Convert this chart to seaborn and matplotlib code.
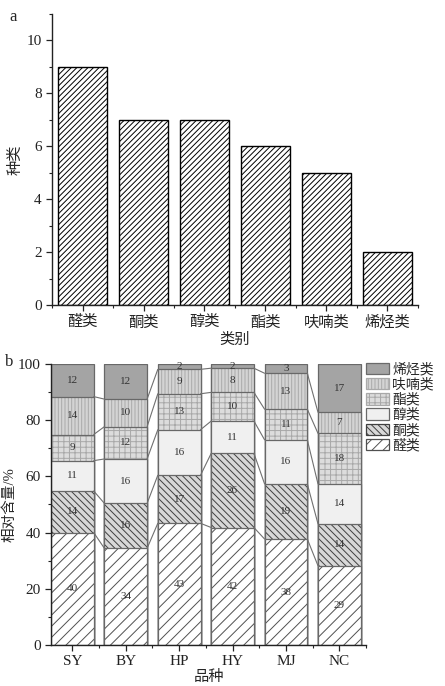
import matplotlib
matplotlib.use("Agg")
import matplotlib.pyplot as plt
import matplotlib.patches as mpatches
from matplotlib.ticker import MultipleLocator
import numpy as np
import seaborn as sns

# ---- data ----
# panel a: number of compounds in each class
classes = ['醛类', '酮类', '醇类', '酯类', '呋喃类', '烯烃类']
counts = [9, 7, 7, 6, 5, 2]

# panel b: relative content (%) per variety, one list per class (bottom -> top)
varieties = ['SY', 'BY', 'HP', 'HY', 'MJ', 'NC']
aldehyde = [40.0, 34.4, 43.3, 41.8, 37.7, 28.2]
ketone = [14.8, 16.0, 17.1, 26.4, 19.6, 14.9]
alcohol = [10.8, 15.8, 16.2, 11.5, 15.7, 14.2]
ester = [9.3, 11.5, 12.8, 10.2, 10.9, 18.0]
furan = [13.5, 9.8, 8.7, 8.6, 12.8, 7.5]
olefin = [11.6, 12.5, 1.9, 1.5, 3.3, 17.2]

# printed labels on the segments
aldehyde_lbl = [40, 34, 43, 42, 38, 29]
ketone_lbl = [14, 16, 17, 26, 19, 14]
alcohol_lbl = [11, 16, 16, 11, 16, 14]
ester_lbl = [9, 12, 13, 10, 11, 18]
furan_lbl = [14, 10, 9, 8, 13, 7]
olefin_lbl = [12, 12, 2, 2, 3, 17]

stack = [aldehyde, ketone, alcohol, ester, furan, olefin]
stack_lbl = [aldehyde_lbl, ketone_lbl, alcohol_lbl, ester_lbl, furan_lbl, olefin_lbl]

# face colour, hatch, hatch colour for each class
styles = [
    ('white', '///', '#505050'),
    ('#d8d8d8', '\\\\\\\\\\', '#404040'),
    ('#f0f0f0', None, '#6a6a6a'),
    ('#dcdcdc', '+++', '#a8a8a8'),
    ('#d4d4d4', '|||||', '#aaaaaa'),
    ('#a4a4a4', None, '#6a6a6a'),
]
outline = '#686868'

sns.set_style('ticks')
plt.rcParams['font.family'] = ['Liberation Serif', 'Noto Sans CJK SC']
plt.rcParams['hatch.linewidth'] = 0.7
plt.rcParams['axes.linewidth'] = 1.0
plt.rcParams['axes.edgecolor'] = '#222222'

fig = plt.figure(figsize=(4.45, 6.86), dpi=100)
ax1 = fig.add_axes([0.117, 0.5554, 0.822, 0.4242])
ax2 = fig.add_axes([0.1146, 0.0598, 0.708, 0.4096])

# ---- panel a ----
sns.barplot(x=classes, y=counts, color='white', saturation=1, errorbar=None,
            edgecolor='black', linewidth=1.0, hatch='//////', width=0.8, ax=ax1)
ax1.set_ylim(0, 11)
ax1.set_xlim(-0.5, 5.5)
ax1.yaxis.set_major_locator(MultipleLocator(2))
ax1.yaxis.set_minor_locator(MultipleLocator(1))
ax1.xaxis.set_minor_locator(MultipleLocator(1, offset=0.5))
ax1.set_xlabel('类别', fontsize=11, labelpad=2)
ax1.set_ylabel('种类', fontsize=11, labelpad=3)

# ---- panel b ----
cum = np.cumsum(np.array(stack), axis=0)
# draw from the top of the stack down so lower segments cover upper bars
for k in range(len(stack) - 1, -1, -1):
    face, hatch, hc = styles[k]
    sns.barplot(x=varieties, y=cum[k], color=face, saturation=1, errorbar=None,
                hatch=hatch, edgecolor=hc, linewidth=0, width=0.8, ax=ax2)
    sns.barplot(x=varieties, y=cum[k], color=outline, fill=False, errorbar=None,
                linewidth=0.9, width=0.8, ax=ax2)

# connector lines between neighbouring bars
for k in range(len(stack) - 1):
    for i in range(len(varieties) - 1):
        ax2.plot([i + 0.4, i + 0.6], [cum[k][i], cum[k][i + 1]],
                 color='#707070', lw=0.8, zorder=3)

# segment labels
for k in range(len(stack)):
    for i in range(len(varieties)):
        mid = cum[k][i] - stack[k][i] / 2
        ax2.text(i, mid, str(stack_lbl[k][i]), ha='center', va='center',
                 fontsize=8, color='#333333', zorder=4)

ax2.set_ylim(0, 100)
ax2.set_xlim(-0.4, 5.5)
ax2.yaxis.set_major_locator(MultipleLocator(20))
ax2.yaxis.set_minor_locator(MultipleLocator(10))
ax2.xaxis.set_minor_locator(MultipleLocator(1, offset=0.5))
ax2.set_xlabel('品种', fontsize=11, labelpad=1)
ax2.set_ylabel('相对含量/%', fontsize=10.5, labelpad=1)

handles = []
for k in range(len(stack) - 1, -1, -1):
    face, hatch, hc = styles[k]
    handles.append(mpatches.Patch(facecolor=face, hatch=hatch, edgecolor=hc,
                                  linewidth=0.9, label=classes[k]))
ax2.legend(handles=handles, loc='upper left', bbox_to_anchor=(0.995, 1.01),
           frameon=False, fontsize=10, handlelength=1.7, handleheight=0.9,
           handletextpad=0.2, labelspacing=0.12, borderaxespad=0.0,
           borderpad=0.1)

for ax in (ax1, ax2):
    sns.despine(ax=ax)
    ax.tick_params(which='major', direction='out', length=4, width=0.9,
                   labelsize=11, colors='#222222')
    ax.tick_params(which='minor', direction='out', length=2.5, width=0.8,
                   colors='#222222')

fig.text(0.022, 0.975, 'a', fontsize=12, va='center', ha='left')
fig.text(0.012, 0.472, 'b', fontsize=12, va='center', ha='left')

fig.savefig('out.png', dpi=100, facecolor='white')
